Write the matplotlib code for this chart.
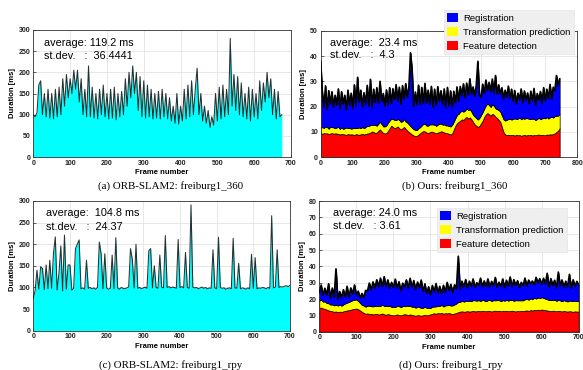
import numpy as np
import matplotlib
matplotlib.use("Agg")
import matplotlib.pyplot as plt
from matplotlib.patches import Patch

plt.rcParams['font.family'] = ['Liberation Sans', 'DejaVu Sans']

STEP = 5  # frames between samples

# (a) ORB-SLAM2 freiburg1_360, duration [ms] every 5 frames
orb360_ms = [
    100, 95, 105, 170, 180, 100, 150, 95, 160, 92,
    150, 90, 160, 95, 165, 100, 185, 120, 195, 140,
    185, 150, 205, 160, 205, 130, 185, 100, 160, 95,
    215, 95, 165, 92, 150, 90, 160, 100, 170, 95,
    150, 90, 160, 92, 165, 88, 150, 95, 155, 100,
    185, 120, 200, 140, 215, 150, 200, 110, 190, 95,
    180, 92, 170, 95, 160, 90, 150, 92, 155, 90,
    160, 95, 150, 90, 140, 85, 120, 80, 150, 78,
    120, 85, 160, 90, 170, 95, 180, 100, 160, 210,
    100, 150, 85, 120, 80, 110, 70, 95, 75, 150,
    85, 165, 90, 170, 95, 160, 100, 280, 120, 195,
    110, 190, 100, 175, 95, 150, 90, 165, 85, 160,
    95, 150, 90, 180, 110, 175, 130, 200, 140, 185,
    100, 160, 90, 155, 95, 100]

# (c) ORB-SLAM2 freiburg1_rpy
orbrpy_ms = [
    75, 93, 140, 96, 148, 144, 95, 152, 97, 163,
    98, 179, 217, 94, 133, 196, 92, 221, 96, 152,
    152, 94, 98, 190, 200, 210, 97, 99, 96, 163,
    98, 100, 97, 99, 96, 100, 205, 178, 97, 178,
    99, 96, 98, 175, 97, 215, 99, 96, 100, 98,
    97, 99, 101, 190, 165, 99, 200, 98, 100, 97,
    99, 101, 98, 185, 190, 99, 150, 100, 98, 175,
    101, 99, 220, 100, 102, 99, 101, 100, 98, 211,
    100, 102, 99, 181, 100, 98, 291, 101, 99, 100,
    97, 99, 101, 98, 100, 97, 99, 98, 187, 99,
    97, 216, 100, 98, 99, 96, 98, 99, 97, 214,
    99, 98, 156, 97, 99, 98, 96, 99, 97, 177,
    98, 169, 97, 99, 98, 100, 99, 97, 100, 98,
    266, 99, 101, 187, 100, 102, 101, 103, 104, 102,
    105]

# (b) Ours freiburg1_360 (stacked components, ms)
ours360_feat = [
    9.5, 9.3, 9.6, 9.4, 9.5, 9.2, 9.4, 9.6, 9.3, 9.5,
    9.4, 9.2, 9.0, 9.3, 9.1, 9.0, 8.9, 9.2, 9.0, 9.1,
    9.0, 8.8, 9.2, 9.0, 8.9, 9.1, 9.3, 9.0, 9.2, 9.4,
    9.5, 9.8, 10.2, 10.0, 9.6, 9.8, 10.5, 11.0, 10.2, 9.6,
    9.4, 9.6, 10.5, 11.5, 12.5, 12.0, 11.5, 11.8, 12.2, 11.5,
    11.0, 11.5, 12.0, 11.2, 10.5, 10.0, 9.5, 9.0, 8.6, 8.4,
    8.5, 9.0, 9.5, 10.0, 10.4, 10.2, 9.8, 9.6, 9.9, 10.2,
    10.0, 9.7, 9.5, 9.8, 10.0, 10.3, 10.1, 9.8, 9.6, 9.5,
    9.3, 9.0, 9.5, 11.0, 12.5, 13.5, 14.0, 14.5, 15.0, 14.8,
    15.5, 16.0, 15.2, 15.8, 15.0, 14.0, 13.0, 12.5, 12.0, 12.4,
    13.5, 14.5, 16.0, 17.0, 17.5, 17.0, 16.5, 17.2, 16.8, 16.0,
    15.5, 14.8, 14.0, 12.0, 10.0, 9.0, 8.8, 8.9, 8.7, 8.9,
    8.8, 8.6, 8.9, 8.7, 8.8, 8.5, 8.7, 8.9, 8.6, 8.8,
    8.7, 8.9, 8.6, 8.8, 8.7, 8.9, 9.0, 8.8, 8.9, 8.7,
    8.8, 9.0, 8.9, 9.1, 9.0, 9.2, 9.5, 10.0, 10.5, 11.5]
ours360_pred = [
    2.2, 2.6, 2.0, 2.8, 2.4, 2.1, 2.7, 2.3, 2.5, 2.0,
    2.4, 2.8, 2.2, 2.6, 2.1, 2.5, 2.9, 2.3, 2.6, 2.2,
    2.5, 2.8, 2.3, 2.6, 2.9, 2.4, 2.7, 2.5, 2.8, 3.0,
    2.8, 3.0, 2.6, 2.9, 3.1, 2.7, 2.8, 3.0, 2.9, 2.6,
    2.8, 3.0, 3.2, 3.0, 2.8, 3.1, 3.3, 2.9, 3.0, 3.2,
    3.0, 2.8, 3.1, 2.9, 3.2, 3.0, 2.8, 2.6, 2.5, 2.4,
    2.3, 2.5, 2.4, 2.6, 2.8, 3.0, 2.7, 2.9, 3.1, 2.8,
    3.0, 3.2, 2.9, 3.1, 3.3, 3.0, 2.8, 3.2, 3.0, 3.1,
    3.0, 3.2, 3.4, 3.1, 3.0, 3.3, 3.2, 3.5, 3.4, 3.2,
    3.0, 3.3, 3.5, 3.2, 3.0, 2.8, 3.1, 3.0, 2.9, 3.2,
    3.2, 3.4, 3.3, 3.5, 3.8, 3.6, 3.4, 3.7, 3.5, 3.3,
    3.5, 3.8, 4.0, 4.5, 5.0, 5.5, 6.0, 6.2, 6.5, 6.0,
    6.4, 6.8, 6.2, 6.6, 7.0, 6.5, 6.8, 6.3, 6.9, 6.6,
    6.5, 6.2, 6.7, 6.4, 6.0, 6.3, 6.6, 6.2, 6.5, 6.8,
    6.6, 6.9, 6.4, 6.7, 7.0, 6.5, 6.8, 6.3, 6.0, 5.5]
ours360_reg = [
    26, 14, 8, 16, 7, 15, 9, 14, 8, 13,
    9, 15, 8, 14, 10, 13, 7, 15, 9, 14,
    8, 17, 9, 20, 10, 15, 8, 14, 9, 16,
    8, 18, 7, 14, 9, 15, 8, 16, 9, 13,
    8, 14, 7, 13, 6, 12, 8, 14, 7, 13,
    7, 14, 8, 15, 10, 15, 29, 23, 9, 15,
    10, 17, 9, 15, 8, 16, 9, 14, 8, 15,
    7, 14, 8, 15, 9, 13, 8, 14, 7, 15,
    8, 14, 7, 12, 6, 11, 5, 10, 6, 11,
    5, 10, 6, 12, 7, 11, 8, 13, 23, 9,
    7, 11, 6, 10, 5, 9, 6, 10, 5, 13,
    6, 10, 7, 11, 8, 12, 9, 13, 8, 12,
    7, 11, 6, 10, 7, 12, 6, 11, 7, 10,
    6, 11, 7, 12, 6, 10, 7, 11, 6, 12,
    7, 11, 8, 13, 7, 12, 10, 16, 12, 14]

# (d) Ours freiburg1_rpy (stacked components, ms)
oursrpy_feat = [
    14.5, 14.8, 14.2, 14.0, 13.5, 13.0, 12.8, 12.5, 12.2, 12.4,
    12.0, 12.3, 12.1, 12.5, 12.8, 13.0, 13.2, 13.5, 13.8, 14.0,
    14.2, 13.8, 13.0, 12.2, 11.5, 11.0, 11.2, 10.8, 11.0, 10.6,
    10.8, 11.0, 10.5, 10.8, 11.2, 10.6, 10.4, 10.8, 10.5, 10.2,
    10.0, 10.3, 10.6, 10.2, 10.0, 10.4, 10.8, 10.5, 10.2, 10.6,
    10.3, 10.0, 9.8, 10.2, 10.0, 9.8, 10.1, 10.4, 10.0, 10.3,
    10.6, 11.0, 11.3, 11.0, 11.5, 11.2, 11.6, 11.0, 11.4, 11.2,
    11.5, 11.0, 10.8, 11.2, 11.5, 12.0, 12.3, 12.5, 12.2, 12.4,
    12.6, 12.3, 12.5, 12.8, 12.4, 12.6, 12.7, 12.5, 12.8, 12.6,
    12.5, 12.8, 12.6, 12.4, 12.7, 12.9, 12.6, 12.8, 12.5, 12.7,
    12.6, 12.8, 12.5, 12.7, 12.9, 12.6, 12.4, 12.7, 12.5, 12.8,
    12.6, 12.9, 13.0, 12.8, 13.2, 13.0, 13.4, 13.2, 13.5, 13.3,
    13.6, 13.4, 13.2, 13.0, 12.8, 12.6, 12.9, 12.7, 12.5, 12.8,
    12.6, 12.4, 12.7, 12.5, 12.3, 12.6, 12.4, 12.2, 12.5, 12.3,
    12.4]
oursrpy_pred = [
    4.5, 4.8, 4.2, 4.6, 4.0, 4.4, 3.8, 4.2, 3.9, 4.1,
    4.0, 4.3, 3.8, 4.2, 4.5, 4.8, 5.0, 5.3, 5.5, 5.6,
    5.5, 5.0, 4.6, 4.2, 4.5, 4.3, 4.8, 5.0, 4.6, 4.9,
    5.0, 4.8, 5.2, 5.0, 5.4, 5.1, 5.3, 4.9, 5.2, 5.0,
    5.2, 4.9, 5.1, 5.4, 5.0, 5.3, 4.8, 5.2, 5.5, 5.1,
    5.0, 5.3, 4.9, 5.2, 5.0, 4.8, 4.6, 4.9, 4.5, 4.2,
    4.0, 4.3, 4.1, 4.5, 4.2, 4.6, 4.8, 4.4, 4.7, 5.0,
    4.8, 5.0, 5.3, 5.5, 5.8, 6.2, 6.0, 6.4, 6.2, 6.5,
    6.3, 6.6, 6.2, 6.5, 6.8, 6.4, 6.6, 6.3, 6.7, 6.5,
    6.2, 6.5, 6.8, 6.4, 6.6, 6.3, 6.7, 6.5, 6.2, 6.6,
    6.4, 6.7, 6.5, 6.8, 6.6, 6.3, 6.9, 6.5, 6.7, 6.4,
    6.6, 6.9, 7.0, 6.8, 7.2, 7.0, 7.3, 7.1, 7.4, 7.2,
    7.5, 7.3, 7.0, 6.8, 6.6, 6.9, 6.5, 6.8, 6.4, 6.7,
    6.5, 6.3, 6.6, 6.4, 6.2, 6.5, 6.3, 6.6, 6.4, 6.5,
    6.3]
oursrpy_reg = [
    5, 9, 4, 8, 5, 12, 4, 10, 5, 22,
    4, 8, 5, 9, 4, 10, 3, 8, 4, 9,
    3, 6, 3, 7, 5, 10, 9, 14, 10, 15,
    11, 16, 12, 17, 11, 18, 12, 16, 11, 15,
    12, 17, 11, 15, 10, 14, 12, 16, 11, 17,
    12, 16, 11, 15, 12, 17, 10, 14, 9, 13,
    8, 13, 9, 14, 8, 12, 7, 13, 8, 14,
    9, 13, 8, 12, 9, 28, 8, 12, 9, 13,
    8, 12, 9, 13, 8, 11, 9, 14, 8, 12,
    9, 13, 8, 12, 9, 14, 8, 11, 9, 13,
    8, 12, 9, 14, 8, 13, 9, 12, 8, 11,
    9, 13, 8, 12, 9, 11, 8, 13, 9, 12,
    8, 12, 9, 16, 8, 13, 9, 12, 8, 17,
    9, 13, 8, 12, 9, 16, 8, 13, 9, 12,
    10]

stats_texts = [
    ("average: 119.2 ms", "st.dev.   :  36.4441"),
    ("average:  23.4 ms", "st.dev.   :  4.3"),
    ("average:  104.8 ms", "st.dev.   :  24.37"),
    ("average: 24.0 ms", "st.dev.   : 3.61"),
]
captions = ["(a) ORB-SLAM2: freiburg1_360", "(b) Ours: freiburg1_360",
            "(c) ORB-SLAM2: freiburg1_rpy", "(d) Ours: freiburg1_rpy"]
legend_labels = ["Registration", "Transformation prediction", "Feature detection"]
col_reg, col_pred, col_feat = "#0000ff", "#ffff00", "#ff0000"

W, H = 583, 370
fig = plt.figure(figsize=(W / 100, H / 100), dpi=100)

def px_axes(x0, y0, x1, y1):
    return fig.add_axes([x0 / W, 1 - y1 / H, (x1 - x0) / W, (y1 - y0) / H])

axa = px_axes(33.3, 30.0, 291.0, 157.0)
axb = px_axes(320.7, 30.7, 577.3, 157.3)
axc = px_axes(33.3, 201.0, 290.0, 330.7)
axd = px_axes(319.3, 201.0, 578.7, 331.7)

def style(ax, xmax, ymax, ystep):
    ax.set_xlim(0, xmax)
    ax.set_ylim(0, ymax)
    ax.set_xticks(np.arange(0, xmax + 1, 100))
    ax.set_yticks(np.arange(0, ymax + 1, ystep))
    ax.grid(True, color="#e3e3e3", linewidth=0.6)
    ax.set_axisbelow(True)
    ax.tick_params(direction="in", length=2, width=0.5, labelsize=5, pad=2,
                   colors="#222222")
    for lab in ax.get_xticklabels() + ax.get_yticklabels():
        lab.set_fontweight("bold")
    for s in ax.spines.values():
        s.set_linewidth(0.6)
        s.set_color("#333333")
    ax.set_xlabel("Frame number", fontsize=5.5, fontweight="bold", labelpad=1.5)
    ax.set_ylabel("Duration [ms]", fontsize=5.5, fontweight="bold", labelpad=2)

def orb_panel(ax, vals):
    x = np.arange(len(vals)) * STEP
    ax.fill_between(x, 0, vals, color="#00ffff", linewidth=0, zorder=2)
    ax.plot(x, vals, color="#1a1a1a", linewidth=0.75, alpha=0.9, zorder=3)

def ours_panel(ax, feat, pred, reg):
    x = np.arange(len(feat)) * STEP
    ax.stackplot(x, feat, pred, reg, colors=[col_feat, col_pred, col_reg],
                 edgecolor="black", linewidth=0.5, zorder=2)
    total = np.asarray(feat) + np.asarray(pred) + np.asarray(reg)
    ax.plot(x, total, color="black", linewidth=1.2, zorder=3)

orb_panel(axa, orb360_ms)
style(axa, 700, 300, 50)
ours_panel(axb, ours360_feat, ours360_pred, ours360_reg)
style(axb, 800, 50, 10)
orb_panel(axc, orbrpy_ms)
style(axc, 700, 300, 50)
ours_panel(axd, oursrpy_feat, oursrpy_pred, oursrpy_reg)
style(axd, 700, 80, 10)

stat_pos = [(0.042, 0.895, 0.795), (0.036, 0.905, 0.805),
            (0.048, 0.905, 0.80), (0.054, 0.91, 0.81)]
for ax, (l1, l2), (tx, ty1, ty2) in zip([axa, axb, axc, axd], stats_texts, stat_pos):
    ax.text(tx, ty1, l1, transform=ax.transAxes, fontsize=7.8, va="center",
            ha="left", zorder=5)
    ax.text(tx, ty2, l2, transform=ax.transAxes, fontsize=7.8, va="center",
            ha="left", zorder=5)

handles = [Patch(facecolor=col_reg, edgecolor="none"),
           Patch(facecolor=col_pred, edgecolor="none"),
           Patch(facecolor=col_feat, edgecolor="none")]
for ax, (lx, ly) in [(axb, (444, 10)), (axd, (437, 208))]:
    leg = ax.legend(handles, legend_labels, loc="upper left",
                    bbox_to_anchor=(lx / W, 1 - ly / H),
                    bbox_transform=fig.transFigure, fontsize=6.8,
                    handlelength=1.15, handleheight=1.1, handletextpad=0.55,
                    labelspacing=0.45, borderpad=0.35, borderaxespad=0,
                    frameon=True, fancybox=False, framealpha=1)
    leg.get_frame().set_facecolor("#efefef")
    leg.get_frame().set_edgecolor("#e6e6e6")
    leg.get_frame().set_linewidth(0.5)
    leg.set_zorder(10)

cap_pos = [(171, 186), (455, 186), (171, 365), (451, 365)]
for txt, (cx, cy) in zip(captions, cap_pos):
    fig.text(cx / W, 1 - cy / H, txt, fontsize=7.8, ha="center", va="center",
             family=["Liberation Serif", "DejaVu Serif"])

fig.savefig("out.png", dpi=100)
